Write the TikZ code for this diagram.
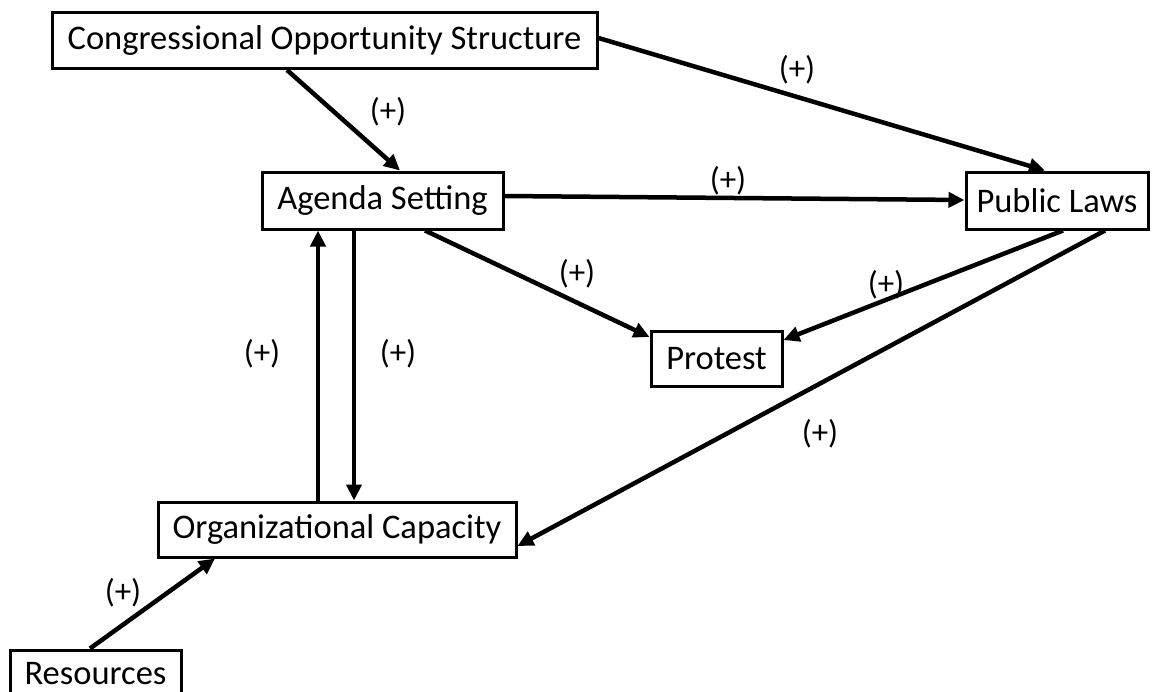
\documentclass[tikz,border=0pt]{standalone}
\usepackage{fontspec}
\setmainfont{Carlito}
\usetikzlibrary{arrows.meta,calc}
\tikzset{
  box/.style={draw=black, line width=3pt, fill=white, inner sep=0pt, align=center, font=\fontsize{34.5}{38}\selectfont},
  conn/.style={line width=4.5pt, -{Triangle[length=16pt,width=15pt]}},
  lab/.style={inner sep=0pt, font=\fontsize{33}{36}\selectfont}
}
\begin{document}
\begin{tikzpicture}[x=1pt,y=-1pt]
\useasboundingbox[fill=white] (0,0) rectangle (1157,691);
\node[box, minimum width=545pt, minimum height=56pt] (cos) at (324.5,40.5) {Congressional Opportunity Structure};
\node[box, minimum width=241pt, minimum height=57pt] (ag) at (382.5,200.5) {Agenda Setting};
\node[box, minimum width=182pt, minimum height=57pt] (pl) at (1057,200.5) {Public Laws};
\node[box, minimum width=131pt, minimum height=55pt] (pr) at (716.5,358.5) {Protest};
\node[box, minimum width=358pt, minimum height=55pt] (oc) at (337,529.5) {Organizational Capacity};
\node[box, minimum width=171pt, minimum height=56pt, text depth=0pt] (rs) at (95.5,678) {\raisebox{9pt}{Resources}};
% connectors
\draw[conn] ([xshift=-37.5pt]cos.south) -- ([xshift=17.5pt]ag.north);
\draw[conn] ([yshift=2.5pt]cos.east) -- ([xshift=-12pt]pl.north);
\draw[conn] ([yshift=4.5pt]ag.east) -- ([yshift=0.5pt]pl.west);
\draw[conn] ([xshift=42.5pt]ag.south) -- ([yshift=21.5pt]pr.west);
\draw[conn] ([xshift=6pt]pl.south) -- ([yshift=18.5pt]pr.east);
\draw[conn] ([xshift=48pt]pl.south) -- ([yshift=-16.5pt]oc.east);
\draw[conn] ([xshift=-19pt]oc.north) -- ([xshift=-64.5pt]ag.south);
\draw[conn] ([xshift=-28.5pt]ag.south) -- ([xshift=17pt]oc.north);
\draw[conn] ([xshift=-5.5pt]rs.north) -- ([xshift=-122pt]oc.south);
% labels
\node[lab] (l1) at (388,112) {(+)};
\node[lab] (l2) at (797,70) {(+)};
\node[lab] (l3) at (728,181) {(+)};
\node[lab] (l4) at (577,274) {(+)};
\node[lab] (l5) at (886,285) {(+)};
\node[lab] (l6) at (820,434) {(+)};
\node[lab] (l7) at (262,354) {(+)};
\node[lab] (l8) at (398,354) {(+)};
\node[lab] (l9) at (123,593) {(+)};
\end{tikzpicture}
\end{document}
